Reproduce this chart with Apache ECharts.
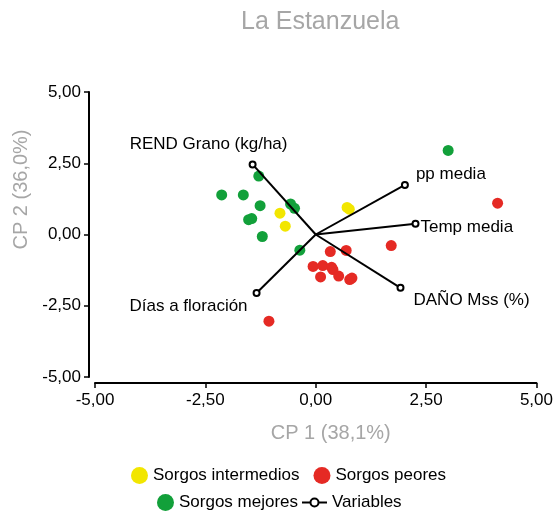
<!DOCTYPE html>
<html>
<head>
<meta charset="utf-8">
<script src="https://cdn.jsdelivr.net/npm/echarts@6/dist/echarts.min.js"></script>
<style>
html,body{margin:0;padding:0;background:#fff;}
#chart{width:556px;height:513px;}
</style>
</head>
<body>
<div id="chart"></div>
<script>
// ---- data ----
var titleText = 'La Estanzuela';
var xAxisName = 'CP 1 (38,1%)';
var yAxisName = 'CP 2 (36,0%)';
var axisMin = -5, axisMax = 5, axisStep = 2.5;

var intermediosX = [-0.81, -0.69, 0.71, 0.76];
var intermediosY = [0.75, 0.29, 0.95, 0.89];

var peoresX = [4.12, 1.71, 0.33, 0.69, -0.06, 0.16, 0.36, 0.39, 0.11, 0.52, 0.77, 0.82, -1.06];
var peoresY = [1.10, -0.39, -0.60, -0.56, -1.12, -1.09, -1.15, -1.23, -1.49, -1.46, -1.58, -1.53, -3.04];

var mejoresX = [3.00, -2.13, -1.64, -1.29, -1.26, -1.52, -1.45, -1.21, -0.57, -0.48, -0.36];
var mejoresY = [2.95, 1.39, 1.39, 2.05, 1.01, 0.52, 0.56, -0.07, 1.07, 0.92, -0.55];

var variableNames = ['REND Grano (kg/ha)', 'pp media', 'Temp media', 'DAÑO Mss (%)', 'Días a floración'];
var variableX = [-1.43, 2.02, 2.26, 1.92, -1.34];
var variableY = [2.46, 1.74, 0.38, -1.87, -2.05];

var groupNames = ['Sorgos intermedios', 'Sorgos peores', 'Sorgos mejores', 'Variables'];

// ---- styles / layout ----
var FONT = "'Liberation Sans', Arial, sans-serif";
var colors = { inter: '#F2E600', peor: '#E52A24', mejor: '#12A03A' };
var labelLayout = [
  { align: 'center', offset: [-44, -20] },
  { align: 'left', offset: [11, -11] },
  { align: 'left', offset: [5, 4] },
  { align: 'left', offset: [13, 13] },
  { align: 'right', offset: [-9, 13] }
];

function zip(xs, ys) { return xs.map(function (x, i) { return [x, ys[i]]; }); }
function fmt(v) { return v.toFixed(2).replace('.', ','); }

var series = [
  { type: 'scatter', name: groupNames[0], data: zip(intermediosX, intermediosY),
    symbolSize: 11, itemStyle: { color: colors.inter, opacity: 1 }, z: 2 },
  { type: 'scatter', name: groupNames[1], data: zip(peoresX, peoresY),
    symbolSize: 11, itemStyle: { color: colors.peor, opacity: 1 }, z: 2 },
  { type: 'scatter', name: groupNames[2], data: zip(mejoresX, mejoresY),
    symbolSize: 11, itemStyle: { color: colors.mejor, opacity: 1 }, z: 2 }
];

variableNames.forEach(function (nm, i) {
  var lay = labelLayout[i];
  series.push({
    type: 'line', name: groupNames[3],
    symbol: 'emptyCircle', symbolSize: 6, showSymbol: true,
    lineStyle: { color: '#000', width: 2 },
    itemStyle: { color: '#000', borderColor: '#000', borderWidth: 1.5 },
    z: 5,
    data: [
      { value: [0, 0], symbol: 'none' },
      { value: [variableX[i], variableY[i]],
        label: { show: true, formatter: nm, position: 'inside', align: lay.align,
                 verticalAlign: 'middle', offset: lay.offset, color: '#000',
                 fontSize: 17, fontFamily: FONT } }
    ]
  });
});

var legendText = { color: '#000', fontSize: 17, fontFamily: FONT };

var option = {
  animation: false,
  backgroundColor: '#fff',
  title: {
    text: titleText, left: 241, top: 10, padding: 0,
    textStyle: { color: '#A6A6A6', fontSize: 25, fontWeight: 'normal', fontFamily: FONT }
  },
  legend: [
    { data: [groupNames[0], groupNames[1]], left: 131, top: 467, padding: 0,
      itemWidth: 17, itemHeight: 17, itemGap: 14, icon: 'circle', textStyle: legendText },
    { data: [groupNames[2]], left: 157, top: 494, padding: 0,
      itemWidth: 17, itemHeight: 17, icon: 'circle', textStyle: legendText },
    { data: [groupNames[3]], left: 301, top: 494, padding: 0,
      itemWidth: 25, itemHeight: 10, textStyle: legendText }
  ],
  grid: { left: 95, right: 19, top: 92, bottom: 136, containLabel: false },
  xAxis: {
    type: 'value', min: axisMin, max: axisMax, interval: axisStep,
    offset: 6, position: 'bottom',
    name: xAxisName, nameLocation: 'middle', nameGap: 40,
    nameTextStyle: { color: '#A6A6A6', fontSize: 20, fontFamily: FONT, padding: [0, 0, 0, 30] },
    axisLine: { show: true, onZero: false, lineStyle: { color: '#000', width: 2 } },
    axisTick: { show: true, inside: false, length: 5, lineStyle: { color: '#000', width: 1.5 } },
    axisLabel: { formatter: fmt, color: '#000', fontSize: 17, fontFamily: FONT, margin: 9 },
    splitLine: { show: false }
  },
  yAxis: {
    type: 'value', min: axisMin, max: axisMax, interval: axisStep,
    offset: 6, position: 'left',
    name: yAxisName, nameLocation: 'middle', nameGap: 53,
    nameTextStyle: { color: '#A6A6A6', fontSize: 20, fontFamily: FONT, padding: [0, 0, 0, 90] },
    axisLine: { show: true, onZero: false, lineStyle: { color: '#000', width: 2 } },
    axisTick: { show: true, inside: false, length: 5, lineStyle: { color: '#000', width: 1.5 } },
    axisLabel: { formatter: fmt, color: '#000', fontSize: 17, fontFamily: FONT, margin: 8 },
    splitLine: { show: false }
  },
  series: series
};

var chart = echarts.init(document.getElementById('chart'), null, { renderer: 'canvas' });
chart.setOption(option);
</script>
</body>
</html>
